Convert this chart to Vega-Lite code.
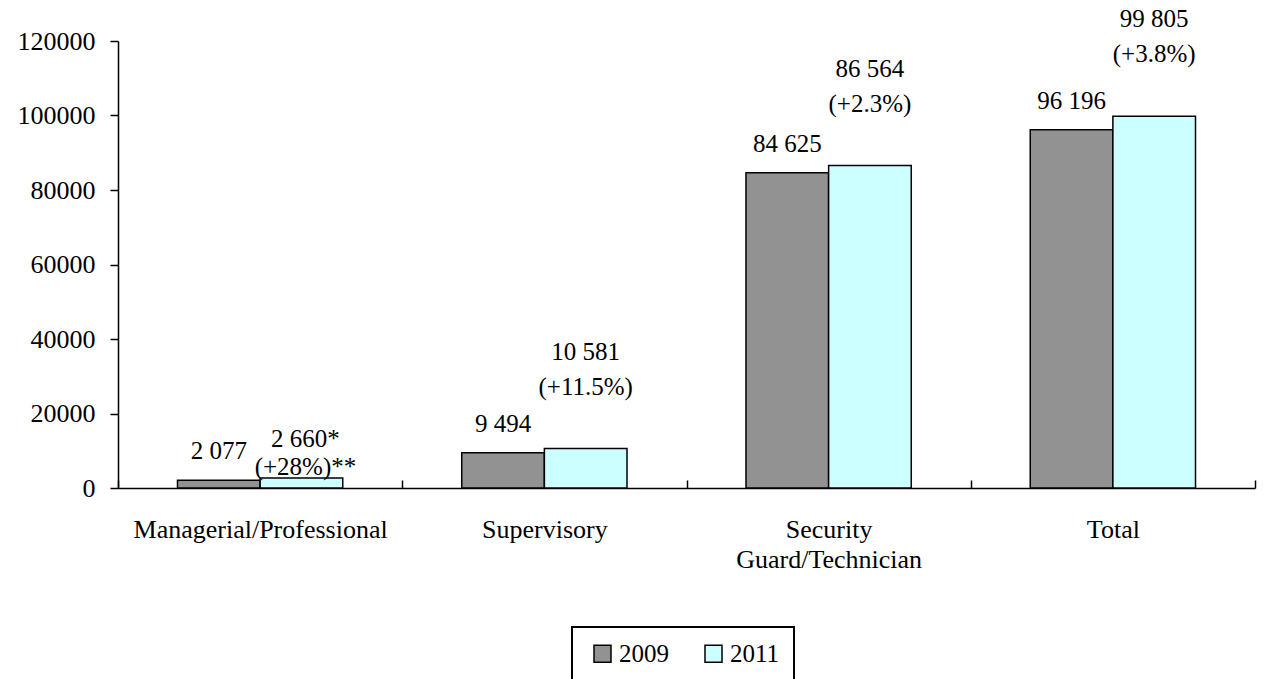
{
  "$schema": "https://vega.github.io/schema/vega-lite/v6.json",
  "width": 1137,
  "height": 447,
  "autosize": {"type": "none"},
  "padding": {"left": 118, "top": 41, "right": 9, "bottom": 191},
  "background": "white",
  "config": {
    "view": {"stroke": null},
    "font": "'Liberation Serif', 'Times New Roman', serif",
    "text": {"font": "'Liberation Serif', 'Times New Roman', serif"},
    "axis": {"domainColor": "black", "tickColor": "black", "domainWidth": 1.5, "tickWidth": 1.5, "labelColor": "black", "labelFont": "'Liberation Serif', 'Times New Roman', serif", "labelFontSize": 26, "grid": false, "title": null, "labelLimit": 0},
    "legend": {"labelFont": "'Liberation Serif', 'Times New Roman', serif", "labelFontSize": 25, "labelColor": "black", "strokeWidth": 2}
  },
  "data": {
    "values": [
      {"category": "Managerial/Professional", "year": "2009", "value": 2077, "label": "2 077", "special": "no"},
      {"category": "Managerial/Professional", "year": "2011", "value": 2660, "label": "2 660*\n(+28%)**", "special": "yes"},
      {"category": "Supervisory", "year": "2009", "value": 9494, "label": "9 494", "special": "no"},
      {"category": "Supervisory", "year": "2011", "value": 10581, "label": "10 581\n(+11.5%)", "special": "no"},
      {"category": "Security Guard/Technician", "year": "2009", "value": 84625, "label": "84 625", "special": "no"},
      {"category": "Security Guard/Technician", "year": "2011", "value": 86564, "label": "86 564\n(+2.3%)", "special": "no"},
      {"category": "Total", "year": "2009", "value": 96196, "label": "96 196", "special": "no"},
      {"category": "Total", "year": "2011", "value": 99805, "label": "99 805\n(+3.8%)", "special": "no"}
    ]
  },
  "encoding": {
    "x": {
      "field": "category", "type": "nominal", "sort": null,
      "scale": {"paddingInner": 0, "paddingOuter": 0},
      "axis": {
        "labelAngle": 0, "tickBand": "extent", "tickSize": -8, "labelPadding": 36,
        "labelLineHeight": 30, "labelBaseline": "top",
        "labelExpr": "datum.label == \"Security Guard/Technician\" ? [\"Security\", \"Guard/Technician\"] : datum.label"
      }
    },
    "xOffset": {"field": "year", "type": "nominal", "scale": {"paddingOuter": 0.72, "paddingInner": 0}},
    "y": {
      "field": "value", "type": "quantitative",
      "scale": {"domain": [0, 120000], "nice": false},
      "axis": {"values": [0, 20000, 40000, 60000, 80000, 100000, 120000], "format": "d", "tickSize": 8, "labelPadding": 15}
    }
  },
  "layer": [
    {
      "mark": {"type": "bar", "stroke": "black", "strokeWidth": 1.5},
      "encoding": {
        "color": {
          "field": "year", "type": "nominal",
          "scale": {"domain": ["2009", "2011"], "range": ["#929292", "#ccffff"]},
          "legend": {
            "title": null, "orient": "none", "legendX": 454, "legendY": 586,
            "direction": "horizontal", "symbolType": "square", "symbolSize": 289,
            "symbolStrokeColor": "black", "symbolStrokeWidth": 1.5, "symbolOpacity": 1,
            "strokeColor": "black", "padding": 14, "symbolOffset": 4,
            "labelOffset": 4, "columnPadding": 28, "fillColor": "white"
          }
        }
      }
    },
    {
      "transform": [{"filter": {"field": "year", "equal": "2009"}}],
      "mark": {"type": "text", "baseline": "bottom", "dy": -16, "fontSize": 25, "color": "black"},
      "encoding": {"text": {"field": "label"}}
    },
    {
      "transform": [{"filter": {"field": "year", "equal": "2011"}}, {"filter": {"field": "special", "equal": "no"}}],
      "mark": {"type": "text", "baseline": "bottom", "dy": -84, "fontSize": 25, "lineHeight": 35, "lineBreak": "\n", "color": "black"},
      "encoding": {"text": {"field": "label"}}
    },
    {
      "transform": [{"filter": {"field": "special", "equal": "yes"}}],
      "mark": {"type": "text", "baseline": "bottom", "dy": -26, "dx": 4, "fontSize": 25, "lineHeight": 28, "lineBreak": "\n", "color": "black"},
      "encoding": {"text": {"field": "label"}}
    }
  ]
}
